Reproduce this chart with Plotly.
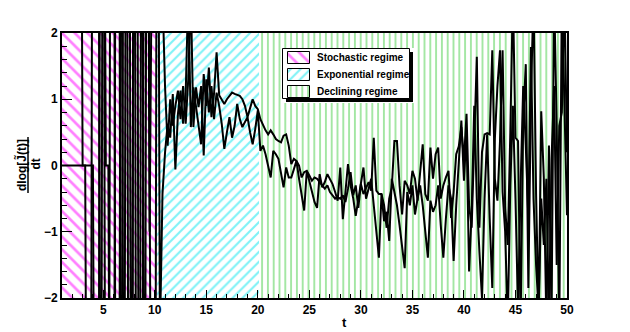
import numpy as np
import plotly.graph_objects as go

# eje temporal (paso 0.25)
t = np.arange(1, 50.01, 0.25)

# dlog[J(t)]/dt, dos realizaciones (valores fuera de [-2,2] quedan recortados)
run_a = [
    0, 0, 0, 0,
    0, 0, 0, 0,
    0, 0, 0, 0,
    0, -9, -9, 9,
    9, -9, -9, 9,
    9, -9, -9, 9,
    -9, 9, 9, -9,
    9, 9, -9, -9,
    9, 9, -1.0, 9,
    9, 9, -2.6, -0.43,
    0.2, 0.63, 0.42, 1.08,
    -0.06, 0.78, 1.13, 0.63,
    1.08, 2.6, 0.58, 1.18,
    0.88, 0.6, 0.32, 1.38,
    0.9, 1.48, 0.73, 1.08,
    1.71, 1.06, 1.0, 0.93,
    1.0, 1.05, 1.1, 1.08,
    1.06, 1.05, 1.0, 0.9,
    0.73, 0.85, 1.0, 0.9,
    0.85, 0.7, 0.6, 0.53,
    0.47, 0.53, 0.47, 0.4,
    0.37, 0.35, 0.45, 0.47,
    0.3, 0.02, 0.1, 0.07,
    0.0, -0.18, -0.1, -0.08,
    -0.15, -0.23, -0.18, -0.2,
    -0.25, -0.3, -0.35, -0.3,
    -0.4, -0.45, -0.5, -0.48,
    -0.5, -0.45, -0.55, -0.35,
    -0.1, -0.45, -0.3, -0.64,
    -0.28, -0.43, -0.33, -0.25,
    -0.38, 0.42, -0.38, -0.43,
    -0.43, -0.6, -0.94, -0.5,
    -0.33, 0.37, 0.37, -0.3,
    -0.74, -0.23, -0.3, -0.43,
    -0.08, -0.2, -0.53, -0.1,
    0.32, -0.43, -0.53, 0.27,
    -0.2, 0.17, 0.27, -0.5,
    -0.3, -0.18, -0.08, -0.79,
    -0.4, 0.17, 0.29, 0.58,
    0.07, 0.78, -0.6, -0.94,
    0.3, 1.64, -0.94, 0.2,
    0.47, 0.49, 0.47, 1.74,
    -0.2, -0.53, 0.37, 1.74,
    -0.64, -1.2, 0.5, 2.6,
    0.42, 0.37, -2.4, 0.68,
    1.53, -1.85, 1.0, 2.6,
    -0.43, -2.3, 0.82, -0.18,
    -2.4, 0.3, -2.3, 2.6,
    0.62, -2.5, 2.6, 0.65,
    -0.75,
]

run_b = [
    None, None, None, None,
    None, None, None, 9,
    0, 0, -9, -9,
    9, 9, 9, -9,
    9, 0, 0, -9,
    -9, 9, 9, -9,
    9, 9, -9, -9,
    9, -9, -9, 9,
    -9, 9, -9, -9,
    -9, 9, 9, 2.6,
    1.18, 0.3, 1.0, 0.6,
    0.9, 1.13, 0.7, 1.2,
    0.63, 1.3, 2.6, 0.58,
    1.18, 0.88, 1.2, 0.15,
    1.3, 0.8, 1.2, 0.7,
    1.1, 0.9, 0.63, 0.25,
    0.5, 0.73, 0.42, 0.6,
    0.93, 0.7, 0.58, 0.65,
    0.73, 0.5, 0.32, 0.55,
    0.83, 0.22, 0.3, 0.17,
    0.0, -0.18, 0.22, 0.17,
    0.1, -0.1, -0.33, -0.03,
    -0.18, -0.18, -0.05, 0.07,
    -0.2, -0.45, -0.68, -0.08,
    -0.25, -0.43, -0.55, -0.64,
    -0.13, -0.33, -0.25, -0.13,
    -0.2, -0.28, -0.4, -0.53,
    -0.03, -0.81, -0.4, 0.02,
    -0.3, -0.49, -0.76, -0.5,
    -0.23, -0.03, -0.5, -0.33,
    -0.2, -0.6, -1.0, -1.39,
    -0.43, -0.84, -0.7, -1.14,
    -0.2, -0.4, -0.6, -0.9,
    -1.2, -1.55, -0.4, -0.6,
    -0.3, -0.74, -0.5, -0.3,
    -0.6, -1.0, -1.39, -0.53,
    -0.7, -0.6, -0.3, -0.9,
    -1.39, -0.8, -0.3, -0.5,
    -1.44, -0.6, 0.1, 0.68,
    -0.23, 0.5, -1.6, -0.7,
    0.9, -0.5, -1.3, -2.0,
    -0.5, 0.47, -0.8, -1.85,
    0.4, 1.2, 1.74, -0.4,
    -1.0, -2.4, -0.3, 0.9,
    -0.5, -2.2, -0.3, 1.2,
    0.3, -0.8, 1.79, -0.5,
    -1.5, -2.2, -0.5, -1.2,
    -0.2, -2.4, 0.1, 1.2,
    -1.5, 0.6, 0.8, 2.6,
    0.2,
]

# regímenes
regimes = ['Stochastic regime', 'Exponential regime', 'Declining regime']
reg_start = [1, 10.2, 20.15]
reg_end = [10.2, 20.15, 50]
reg_shape = ['\\', '/', '|']
reg_color = ['#ff00ff', '#00e5ee', '#3fcc3f']
reg_size = [9, 7, 5.8]
reg_solid = [0.3, 0.3, 0.32]

Y_MIN, Y_MAX = -2, 2
FONT = 'Liberation Sans'

# la página tiene 8 px de margen en el body: se compensa en los márgenes
PL, PR, PT, PB = 62, 567, 33, 298   # área del gráfico en píxeles de ventana
OFF = 8


def px_x(px):
    return (px - PL) / (PR - PL)


def px_y(py):
    return (PB - py) / (PB - PT)


fig = go.Figure()

for i in range(3):
    pat = dict(shape=reg_shape[i], fgcolor=reg_color[i], bgcolor='white',
               size=reg_size[i], solidity=reg_solid[i])
    fig.add_trace(go.Bar(
        x=[(reg_start[i] + reg_end[i]) / 2], y=[Y_MAX - Y_MIN], base=[Y_MIN],
        width=[reg_end[i] - reg_start[i]],
        marker=dict(color='white', pattern=pat, line=dict(width=0)),
        showlegend=False, hoverinfo='skip'))

for run in [run_a, run_b]:
    fig.add_trace(go.Scatter(x=t, y=run, mode='lines',
                             line=dict(color='black', width=2),
                             showlegend=False, connectgaps=False))

# leyenda estilo ROOT en un eje auxiliar (x2/y2 en píxeles)
LX0, LX1, LY0, LY1, SH = 283, 410, 49, 99, 3
fig.add_trace(go.Bar(x=[(LX0 + LX1) / 2 + SH], width=[LX1 - LX0], base=[LY0 + SH], y=[LY1 - LY0],
                     marker=dict(color='black', line=dict(width=0)),
                     xaxis='x2', yaxis='y2', showlegend=False, hoverinfo='skip'))
fig.add_trace(go.Bar(x=[(LX0 + LX1) / 2], width=[LX1 - LX0], base=[LY0], y=[LY1 - LY0],
                     marker=dict(color='white', line=dict(color='black', width=1)),
                     xaxis='x2', yaxis='y2', showlegend=False, hoverinfo='skip'))
for i in range(3):
    top = LY0 + 3 + 17 * i
    pat = dict(shape=reg_shape[i], fgcolor=reg_color[i], bgcolor='white',
               size=reg_size[i], solidity=reg_solid[i])
    fig.add_trace(go.Bar(x=[299], width=[22], base=[top], y=[11.5],
                         marker=dict(color='white', pattern=pat, line=dict(color='black', width=1)),
                         xaxis='x2', yaxis='y2', showlegend=False, hoverinfo='skip'))
    fig.add_annotation(text=regimes[i], xref='paper', yref='paper',
                       x=px_x(315), y=px_y(top + 5.8), xanchor='left', yanchor='middle',
                       showarrow=False,
                       font=dict(family=FONT, size=10, color='black', weight='bold'))

# título eje y: fracción rotada
fig.add_annotation(text='<b>dlog[J\u0303(t)]</b>', xref='paper', yref='paper',
                   x=px_x(21), y=px_y(165), xanchor='center', yanchor='middle',
                   textangle=-90, showarrow=False,
                   font=dict(family=FONT, size=12, color='black'))
fig.add_annotation(text='<b>dt</b>', xref='paper', yref='paper',
                   x=px_x(35.5), y=px_y(164), xanchor='center', yanchor='middle',
                   textangle=-90, showarrow=False,
                   font=dict(family=FONT, size=12, color='black'))
fig.add_shape(type='line', xref='paper', yref='paper',
              x0=px_x(28), x1=px_x(28), y0=px_y(137), y1=px_y(193),
              line=dict(color='black', width=1.5))
# título eje x
fig.add_annotation(text='<b>t</b>', xref='paper', yref='paper',
                   x=px_x(344), y=px_y(322), xanchor='center', yanchor='middle',
                   showarrow=False, font=dict(family=FONT, size=13, color='black'))

fig.update_xaxes(range=[1, 50], tickmode='linear', tick0=0, dtick=5,
                 ticks='inside', ticklen=8, tickcolor='black',
                 minor=dict(dtick=1, ticks='inside', ticklen=4, tickcolor='black'),
                 showgrid=False, zeroline=False,
                 showline=True, linecolor='black', linewidth=2, mirror=True,
                 tickfont=dict(family=FONT, size=12, color='black', weight='bold'))
fig.update_yaxes(range=[Y_MIN, Y_MAX], tickmode='linear', tick0=0, dtick=1,
                 ticks='inside', ticklen=10, tickcolor='black',
                 minor=dict(dtick=0.2, ticks='inside', ticklen=5, tickcolor='black'),
                 showgrid=False, zeroline=False,
                 showline=True, linecolor='black', linewidth=2, mirror=True,
                 tickfont=dict(family=FONT, size=12, color='black', weight='bold'))

fig.update_layout(
    width=630, height=332,
    margin=dict(l=PL - OFF, r=630 + OFF - PR, t=PT - OFF, b=332 + OFF - PB),
    plot_bgcolor='white', paper_bgcolor='white',
    barmode='overlay', bargap=0, showlegend=False,
    xaxis2=dict(domain=[px_x(LX0 - 1), px_x(LX1 + SH + 1)], range=[LX0 - 1, LX1 + SH + 1],
                anchor='y2', visible=False, fixedrange=True),
    yaxis2=dict(domain=[px_y(LY1 + SH + 1), px_y(LY0 - 1)], range=[LY1 + SH + 1, LY0 - 1],
                anchor='x2', visible=False, fixedrange=True),
)

fig.write_html("out.html")
